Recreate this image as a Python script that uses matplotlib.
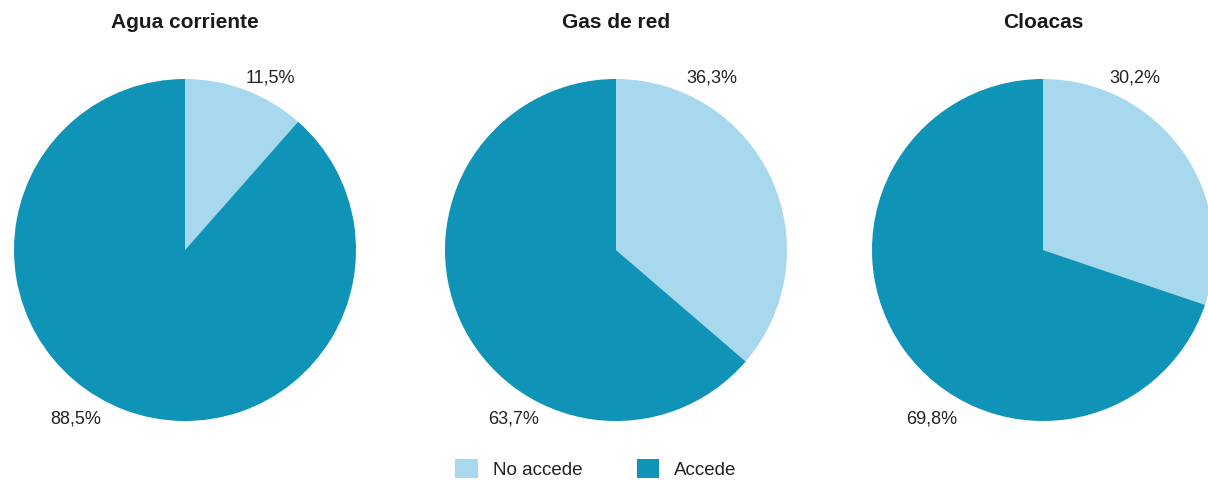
import matplotlib.pyplot as plt
from matplotlib.patches import Patch

plt.rcParams['font.family'] = ['Liberation Sans', 'DejaVu Sans']

titles = ["Agua corriente", "Gas de red", "Cloacas"]
no_accede = [11.5, 36.3, 30.2]
accede = [88.5, 63.7, 69.8]
series_labels = ["No accede", "Accede"]
colors = ["#A7D8EE", "#0F93B7"]

W, H = 1208, 480
fig = plt.figure(figsize=(W / 100, H / 100), dpi=100)

r = 171
centers_x = [185, 616, 1043]
cy = 250
# label positions (in pie radius units)
top_lbl = [(0.50, 1.005), (0.56, 1.005), (0.54, 1.005)]
bot_lbl = [(-0.64, -0.99), (-0.60, -0.99), (-0.65, -0.99)]

for i, title in enumerate(titles):
    cx = centers_x[i]
    ax = fig.add_axes([(cx - r) / W, (H - cy - r) / H, 2 * r / W, 2 * r / H])
    ax.pie([no_accede[i], accede[i]], colors=colors, startangle=90,
           counterclock=False, radius=1, frame=False)
    ax.set_xlim(-1, 1)
    ax.set_ylim(-1, 1)
    ax.set_aspect('equal')
    ax.axis('off')
    ax.text(*top_lbl[i], f"{no_accede[i]:.1f}%".replace('.', ','),
            ha='center', va='center', fontsize=13, color='#222222')
    ax.text(*bot_lbl[i], f"{accede[i]:.1f}%".replace('.', ','),
            ha='center', va='center', fontsize=13, color='#222222')
    fig.text(cx / W, 1 - 23 / H, title, ha='center', va='center',
             fontsize=15, fontweight='bold', color='#1a1a1a')

handles = [Patch(facecolor=c, edgecolor='none') for c in colors]
fig.legend(handles, series_labels, loc='center', bbox_to_anchor=(596 / W, 1 - 469 / H),
           ncol=2, frameon=False, fontsize=13.5, handlelength=1.2, handleheight=1.2,
           handletextpad=0.8, columnspacing=2.9, labelcolor='#222222')

fig.savefig("out.png", dpi=100)
